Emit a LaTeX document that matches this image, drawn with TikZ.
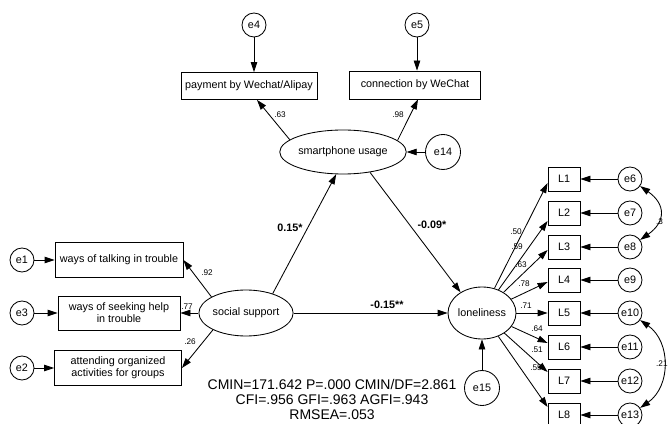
\documentclass[tikz,border=0pt]{standalone}
\usepackage{fontspec}
\setmainfont{Liberation Sans}
\usetikzlibrary{arrows.meta,shapes.geometric,calc}
\begin{document}
\begin{tikzpicture}[x=1pt,y=1pt,
  font=\fontsize{10.8}{12}\selectfont,
  every node/.style={inner sep=0pt},
  err/.style={circle,draw,line width=0.85pt,minimum size=24pt},
  bigerr/.style={circle,draw,line width=0.85pt,minimum size=35pt},
  obs/.style={rectangle,draw,line width=0.85pt,align=center},
  lbox/.style={rectangle,draw,line width=0.85pt,minimum width=32pt,minimum height=24pt},
  lat/.style={ellipse,draw,line width=0.85pt},
  arr/.style={line width=0.85pt,-{Triangle[length=10pt,width=6.5pt]}},
  cov/.style={line width=0.85pt,{Triangle[length=10pt,width=6.5pt]}-{Triangle[length=10pt,width=6.5pt]}},
  coef/.style={font=\fontsize{8.2}{9}\selectfont},
  bcoef/.style={font=\fontsize{10.8}{12}\selectfont\bfseries},
]
\useasboundingbox[fill=white] (0,0) rectangle (668,423);

% top
\node[err] (e4) at (254,398) {e4};
\node[err] (e5) at (417,398) {e5};
\node[obs,minimum width=136pt,minimum height=27pt] (pay) at (249,337) {payment by Wechat/Alipay};
\node[obs,minimum width=131pt,minimum height=28pt] (conn) at (415,338) {connection by WeChat};
\node[lat,minimum width=116pt,minimum height=44pt] (smart) at (343,271) {smartphone usage};
\node[bigerr] (e14) at (443,271) {e14};

% left
\node[err] (e1) at (22,163) {e1};
\node[obs,minimum width=128pt,minimum height=35pt] (talk) at (119,163) {ways of talking in trouble};
\node[err] (e3) at (22,110) {e3};
\node[obs,minimum width=122pt,minimum height=34pt] (seek) at (119,110) {ways of seeking help\\in trouble};
\node[err] (e2) at (22,55) {e2};
\node[obs,minimum width=127pt,minimum height=35pt] (attend) at (118,55) {attending organized\\activities for groups};
\node[lat,minimum width=84pt,minimum height=46pt] (social) at (246,110) {social support};

% right
\node[lat,minimum width=68pt,minimum height=52pt] (lonely) at (482,110) {loneliness};
\node[bigerr] (e15) at (482,35) {e15};
\foreach \i/\y/\e in {1/244/6,2/210/7,3/176/8,4/143/9,5/110/10,6/76/11,7/42/12,8/8/13}{
  \node[lbox] (L\i) at (564,\y) {L\i};
  \node[err] (e\e) at (630,\y) {e\e};
  \draw[arr] (e\e) -- (L\i);
}

% arrows
\draw[arr] (e4) -- (e4 |- pay.north);
\draw[arr] (e5) -- (e5 |- conn.north);
\draw[arr] (smart.167) -- ([xshift=8pt]pay.south);
\draw[arr] (smart.12) -- ([xshift=3pt]conn.south);
\draw[arr] (e14) -- (smart);
\draw[arr] (e1) -- (talk);
\draw[arr] (e3) -- (seek);
\draw[arr] (e2) -- (attend);
\draw[arr] (social.155) -- (talk.east);
\draw[arr] (social) -- (seek);
\draw[arr] (social.207) -- (attend.east);
\draw[arr] (social.36) -- (smart.253);
\draw[arr] (smart.323) -- (lonely.136);
\draw[arr] (social) -- (lonely);
\draw[arr] (e15) -- (lonely);
\draw[arr] (lonely) -- ([yshift=-4pt]L1.west);
\draw[arr] (lonely) -- ([yshift=-8pt]L2.west);
\draw[arr] (lonely) -- ([yshift=-3pt]L3.west);
\draw[arr] (lonely) -- ([yshift=-2pt]L4.west);
\draw[arr] (lonely) -- (L5.west);
\draw[arr] (lonely) -- ([yshift=4pt]L6.west);
\draw[arr] (lonely) -- ([yshift=9pt]L7.west);
\draw[arr] (lonely) -- ([yshift=8pt]L8.west);
\draw[cov] (e6) to[out=-35,in=35,looseness=1.5] (e8);
\draw[cov] (e10) to[out=-35,in=35,looseness=1.1] (e13);

% coefficients
\node[coef] (c1) at (280,308) {.63};
\node[coef] (c2) at (398,308) {.98};
\node[coef] (c3) at (207,150) {.92};
\node[coef] (c4) at (187,116) {.77};
\node[coef] (c5) at (190,81) {.26};
\node[coef] (c6) at (516,191) {.50};
\node[coef] (c7) at (517,176) {.59};
\node[coef] (c8) at (521,158) {.63};
\node[coef] (c9) at (524,139) {.78};
\node[coef] (c10) at (526,117) {.71};
\node[coef] (c11) at (537,94) {.64};
\node[coef] (c12) at (537,73) {.51};
\node[coef] (c13) at (536,55) {.55};
\node[coef,anchor=west] (c14) at (656,201) {.3};
\node[coef,anchor=west] (c15) at (656,59) {.21};
\node[bcoef] (b1) at (290,195) {0.15*};
\node[bcoef] (b2) at (432,198) {-0.09*};
\node[bcoef] (b3) at (387,118) {-0.15**};

% fit statistics
\node[font=\fontsize{14}{15}\selectfont,align=center] (stats) at (332,23.5) {CMIN=171.642 P=.000 CMIN/DF=2.861\\CFI=.956 GFI=.963 AGFI=.943\\RMSEA=.053};
\end{tikzpicture}
\end{document}
